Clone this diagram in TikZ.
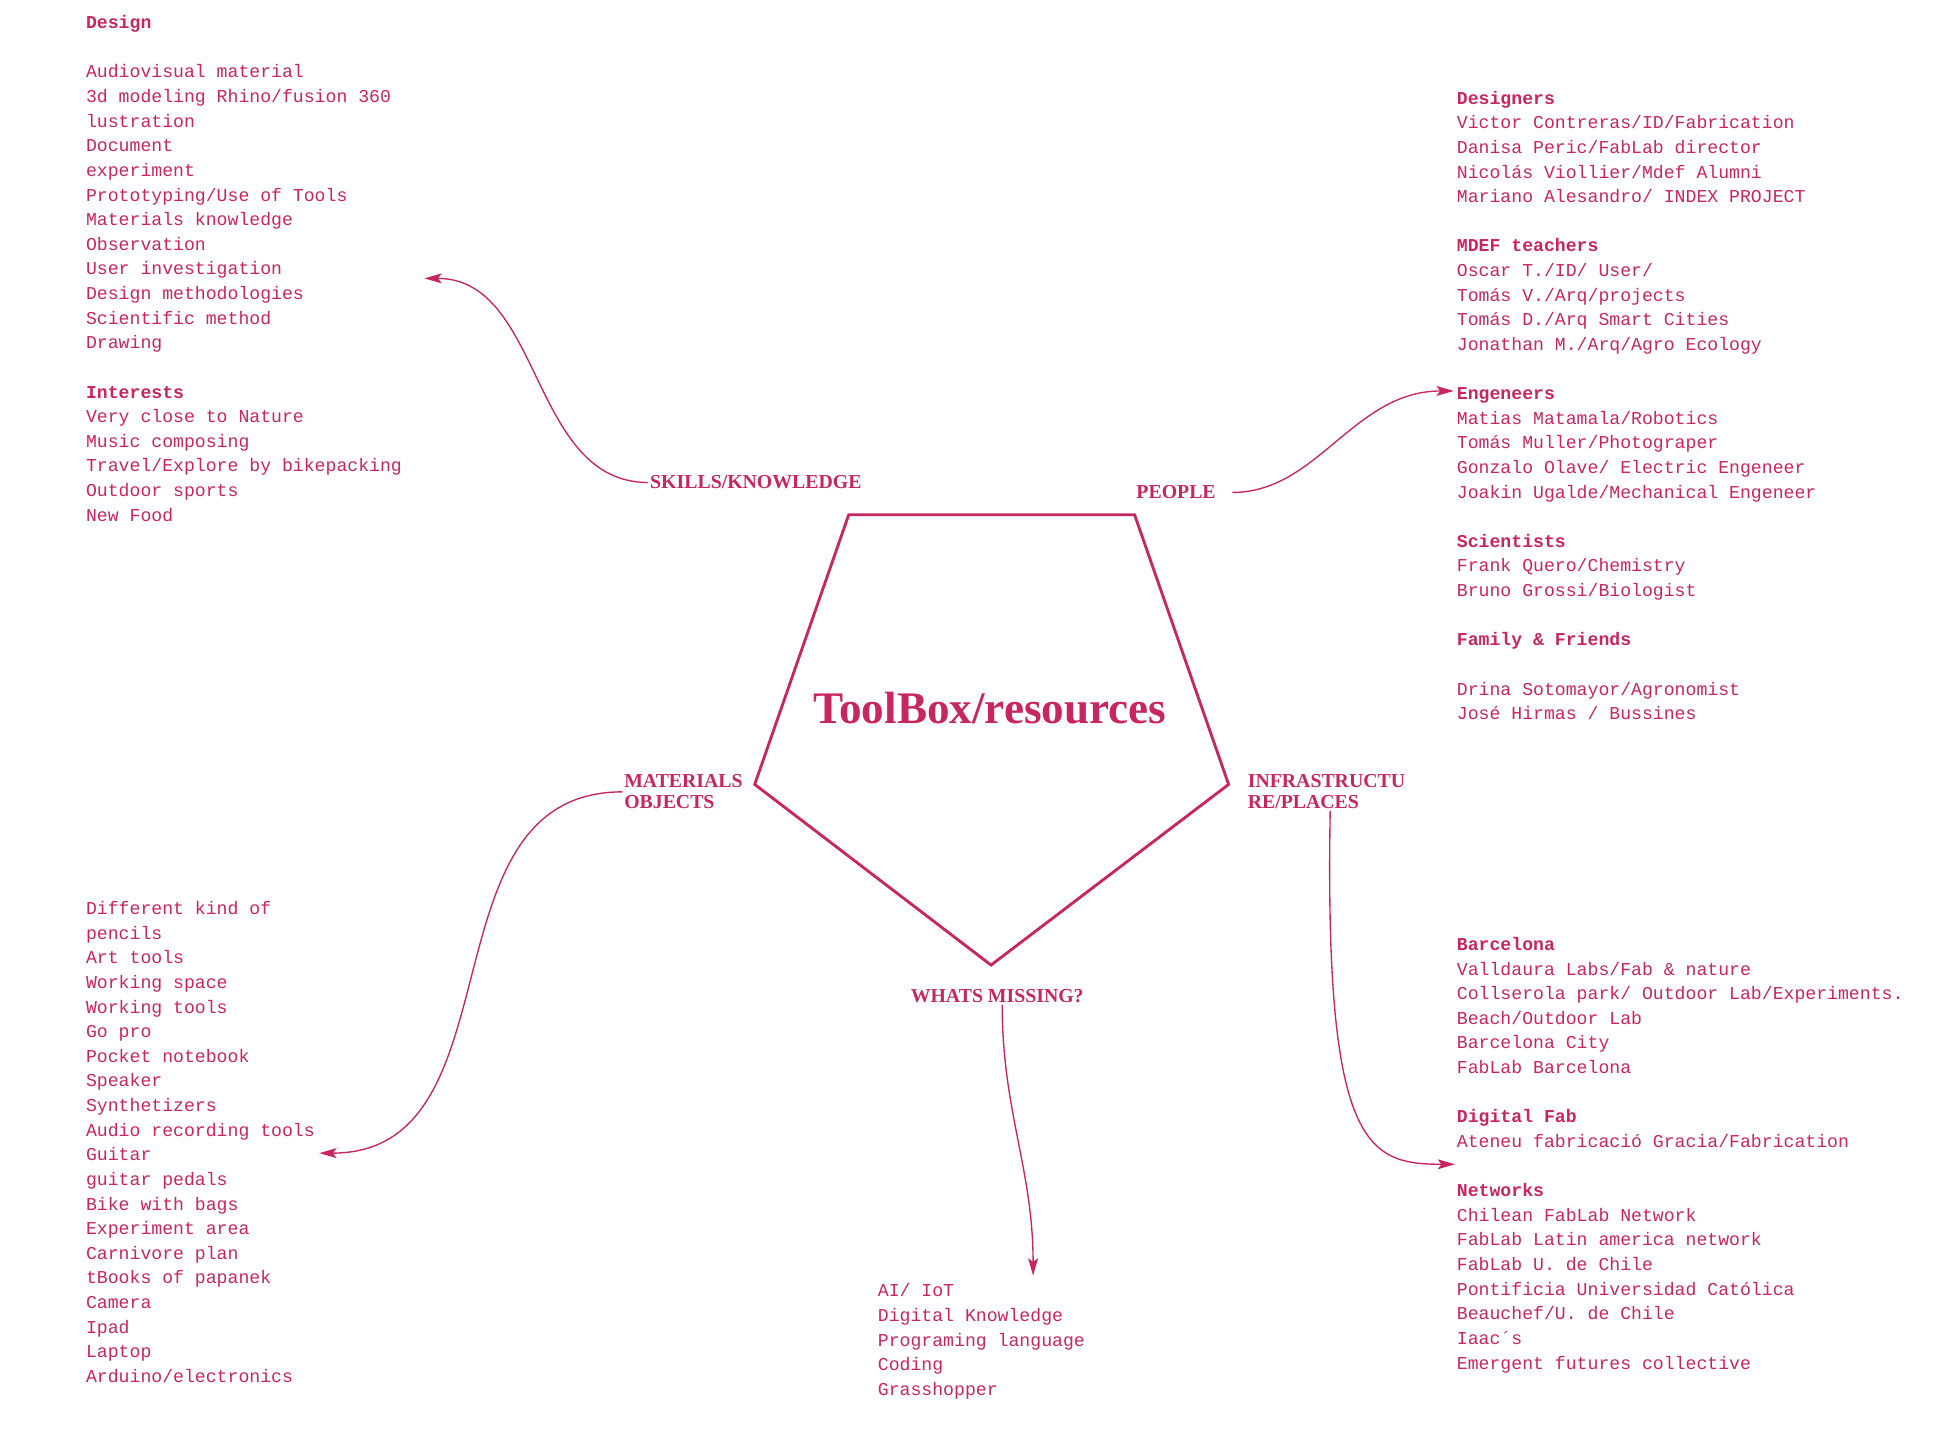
\documentclass[tikz,border=0pt]{standalone}
\usepackage{fontspec}
\setmainfont{Liberation Serif}
\setmonofont{Liberation Mono}
\usetikzlibrary{arrows.meta}
\definecolor{rose}{RGB}{200,38,95}

\begin{document}
\begin{tikzpicture}
        [x=1pt,y=-1pt,->,>={Stealth[length=14pt,width=8pt,inset=3pt]},line width=1.1pt,rose,
        list node/.style={align=left,anchor=north west,inner sep=0pt,font=\ttfamily\fontsize{14.67}{19.9}\selectfont},
        branch node/.style={align=left,anchor=west,inner sep=1pt,font=\bfseries\fontsize{16}{17}\selectfont},
        title node/.style={font=\bfseries\fontsize{36.5}{40}\selectfont}]

    \useasboundingbox (0,0) rectangle (1568,1157);

    \draw[-,line width=2.3pt] (686,416) -- (917,416) -- (993,634) -- (801,780) -- (610,634) -- cycle;
    \node[title node] (t) at (800,572) {ToolBox/resources};

    \node[branch node] (k) at (524,390) {SKILLS/KNOWLEDGE};
    \node[branch node] (p) at (917,398) {PEOPLE};
    \node[branch node] (m) at (503,640) {MATERIALS\\OBJECTS};
    \node[branch node] (i) at (1007,640) {INFRASTRUCTU\\RE/PLACES};
    \node[branch node,anchor=center] (w) at (806,805) {WHATS MISSING?};

    \node[list node] (kl) at (69,12) {\textbf{Design}\\ \mbox{}\\
        Audiovisual material\\3d modeling Rhino/fusion 360\\lustration\\Document\\experiment\\
        Prototyping/Use of Tools\\Materials knowledge\\Observation\\User investigation\\
        Design methodologies\\Scientific method\\Drawing\\ \mbox{}\\
        \textbf{Interests}\\Very close to Nature\\Music composing\\Travel/Explore by bikepacking\\
        Outdoor sports\\New Food};
    \node[list node] (pl) at (1177,73) {\textbf{Designers}\\Victor Contreras/ID/Fabrication\\
        Danisa Peric/FabLab director\\Nicolás Viollier/Mdef Alumni\\Mariano Alesandro/ INDEX PROJECT\\ \mbox{}\\
        \textbf{MDEF teachers}\\Oscar T./ID/ User/\\Tomás V./Arq/projects\\Tomás D./Arq Smart Cities\\
        Jonathan M./Arq/Agro Ecology\\ \mbox{}\\
        \textbf{Engeneers}\\Matias Matamala/Robotics\\Tomás Muller/Photograper\\
        Gonzalo Olave/ Electric Engeneer\\Joakin Ugalde/Mechanical Engeneer\\ \mbox{}\\
        \textbf{Scientists}\\Frank Quero/Chemistry\\Bruno Grossi/Biologist\\ \mbox{}\\
        \textbf{Family \& Friends}\\ \mbox{}\\
        Drina Sotomayor/Agronomist\\José Hirmas / Bussines};
    \node[list node] (ml) at (69,728) {Different kind of\\pencils\\Art tools\\Working space\\
        Working tools\\Go pro\\Pocket notebook\\Speaker\\Synthetizers\\Audio recording tools\\
        Guitar\\guitar pedals\\Bike with bags\\Experiment area\\Carnivore plan\\tBooks of papanek\\
        Camera\\Ipad\\Laptop\\Arduino/electronics};
    \node[list node] (il) at (1177,757) {\textbf{Barcelona}\\Valldaura Labs/Fab \& nature\\
        Collserola park/ Outdoor Lab/Experiments.\\Beach/Outdoor Lab\\Barcelona City\\
        FabLab Barcelona\\ \mbox{}\\
        \textbf{Digital Fab}\\Ateneu fabricació Gracia/Fabrication\\ \mbox{}\\
        \textbf{Networks}\\Chilean FabLab Network\\FabLab Latin america network\\FabLab U. de Chile\\
        Pontificia Universidad Católica\\Beauchef/U. de Chile\\Iaac´s\\Emergent futures collective};
    \node[list node] (wl) at (709,1037) {AI/ IoT\\Digital Knowledge\\Programing language\\
        Coding\\Grasshopper};

    \coordinate (ka) at (343,225);
    \coordinate (pa) at (1175,316);
    \coordinate (ma) at (258,932);
    \coordinate (ia) at (1176,941);
    \coordinate (wa) at (835,1031);

    \path
    (k) edge [out=180,in=0] (ka)
    (p) edge [out=0,in=180,shorten <=12pt] (pa)
    (m) edge [out=180,in=0,looseness=1.1] (ma)
    ([xshift=3pt]i.south) edge [out=-91,in=180,out looseness=2.3,in looseness=0.6] (ia)
    ([xshift=4pt]w.south) edge [out=-90,in=90] (wa);

\end{tikzpicture}
\end{document}
